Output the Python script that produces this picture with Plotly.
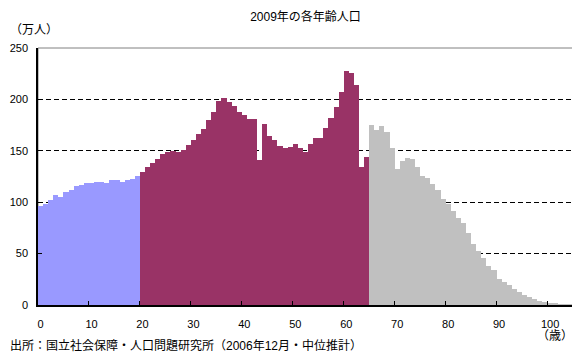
import plotly.graph_objects as go

# Ages and population (万人)
ages_young = list(range(0, 20))
pop_young = [96.5, 98.5, 102, 107, 105.5, 109.5, 112, 116, 117, 119,
             119, 120, 120, 119, 121.5, 121.5, 120, 121.5, 123, 125.5]

ages_work = list(range(20, 65))
pop_work = [129.5, 134.5, 138.5, 142, 147, 149, 150, 149, 151, 156,
            160.5, 166.5, 171.5, 180, 188, 198.5, 201.5, 197.5, 194, 188,
            185, 181, 181, 141, 176, 164.5, 160.5, 155, 153, 154,
            157, 153, 149, 157, 162.5, 162.5, 172.5, 182, 193, 207,
            228, 226, 214, 134.5, 144]

ages_old = list(range(65, 102))
pop_old = [175, 170.5, 174.5, 168.5, 153, 132.5, 140, 143, 142, 134.5,
           125.5, 123.5, 118, 112, 103, 98.5, 91.5, 84.5, 80, 70,
           59.5, 53, 46, 38, 34, 25, 22, 19, 16, 12.5,
           9.5, 7.5, 5.5, 4, 2.8, 2, 1.2]

x_tickvals = [0, 10, 20, 30, 40, 50, 60, 70, 80, 90, 100]
x_ticktext = [str(v) for v in x_tickvals]
y_tickvals = [0, 50, 100, 150, 200, 250]

FONT = "Liberation Sans, Arial, Noto Sans CJK JP, sans-serif"

# The page body has an 8px default margin, so the figure is sized to fit
W, H = 572, 348
ML, MR, MT, MB = 30, 7, 40, 51
PW = W - ML - MR

fig = go.Figure()
for xs, ys, col in [(ages_young, pop_young, "#9999FF"),
                    (ages_work, pop_work, "#993366"),
                    (ages_old, pop_old, "#C0C0C0")]:
    fig.add_trace(go.Bar(x=xs, y=ys, marker=dict(color=col, line=dict(width=0)),
                         width=1, showlegend=False))

fig.update_layout(
    width=W, height=H,
    margin=dict(l=ML, r=MR, t=MT, b=MB, autoexpand=False),
    paper_bgcolor="white", plot_bgcolor="white",
    bargap=0,
    font=dict(family=FONT, size=11, color="black"),
    title=dict(text="2009年の各年齢人口", x=(ML + PW / 2) / W, xanchor="center",
               y=1 - 8.5 / H, yanchor="middle",
               font=dict(family=FONT, size=12, color="black")),
    xaxis=dict(range=[-0.5, 104.5], tickmode="array", tickvals=x_tickvals,
               ticktext=x_ticktext, ticks="", showgrid=False, zeroline=False,
               showline=True, linecolor="black", linewidth=1.5,
               ticklabelstandoff=8, automargin=False,
               minor=dict(tickmode="array",
                          tickvals=[v - 0.5 for v in x_tickvals[1:]],
                          ticks="inside", ticklen=4, tickcolor="black",
                          tickwidth=1, showgrid=False)),
    yaxis=dict(range=[0, 250], tickmode="array", tickvals=y_tickvals,
               ticks="inside", ticklen=4, tickcolor="black", showgrid=False,
               zeroline=False, showline=True, linecolor="black", linewidth=1.5,
               ticklabelstandoff=6, automargin=False,
               minor=dict(tickmode="array", tickvals=[50, 100, 150, 200],
                          ticks="", showgrid=True, gridcolor="black",
                          gridwidth=1, griddash="5px,3px")),
    shapes=[dict(type="rect", xref="paper", yref="paper", x0=0, x1=1, y0=0, y1=1,
                 line=dict(color="#808080", width=1), layer="below")],
    annotations=[
        dict(text="（万人）", xref="paper", yref="paper", x=-ML / PW, y=1,
             xanchor="left", yanchor="middle", yshift=18, showarrow=False,
             font=dict(family=FONT, size=12)),
        dict(text="（歳）", xref="paper", yref="paper", x=1, y=0,
             xanchor="right", yanchor="middle", yshift=-31, xshift=2,
             showarrow=False, font=dict(family=FONT, size=12)),
        dict(text="出所：国立社会保障・人口問題研究所（2006年12月・中位推計）",
             xref="paper", yref="paper", x=-ML / PW, y=0,
             xanchor="left", yanchor="middle", yshift=-40, showarrow=False,
             font=dict(family=FONT, size=12)),
    ],
)

fig.write_html("out.html")
